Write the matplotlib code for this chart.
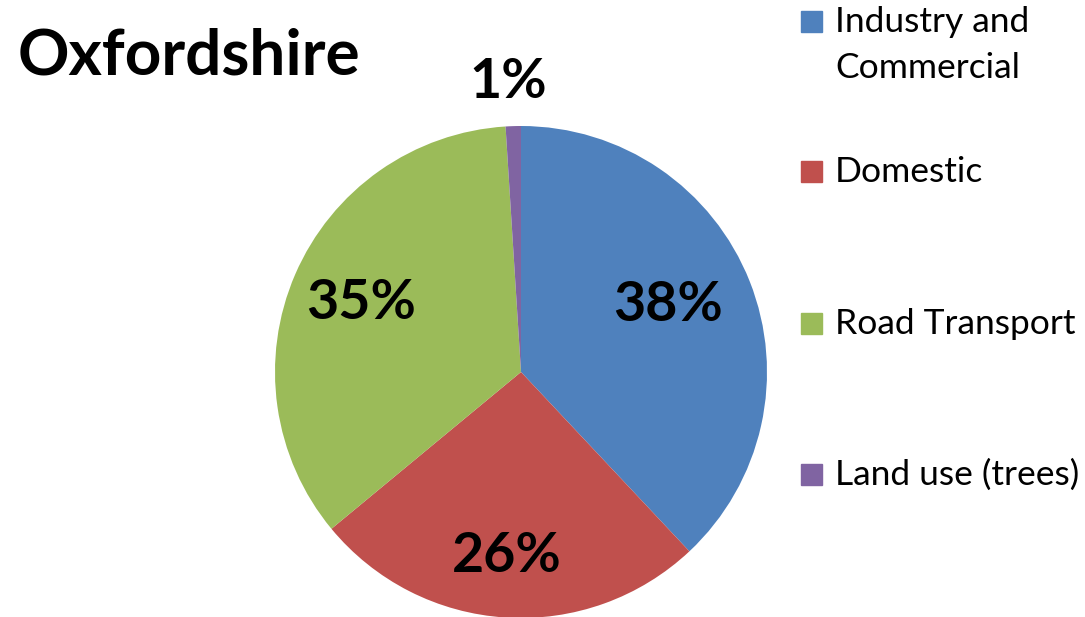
import numpy as np
import matplotlib
matplotlib.use("Agg")
import matplotlib.pyplot as plt
from matplotlib.patches import Rectangle

categories = ["Industry and\nCommercial", "Domestic", "Road Transport", "Land use (trees)"]
shares = [38, 26, 35, 1]
colors = ["#4F81BD", "#C0504D", "#9BBB59", "#8064A2"]

# label placement: radial distance and a small pixel nudge
label_dist = [0.65, 0.75, 0.71, 1.18]
label_nudge = [(-2, 8), (-3, 0), (0, 0), (-4, 0)]

W, H = 1085, 617
fig = plt.figure(figsize=(W / 100, H / 100), dpi=100)
plt.rcParams["font.family"] = ["Lato", "DejaVu Sans"]

# pie centre and radius in pixels
cx, cy, r = 521, 372, 246
ax = fig.add_axes([(cx - r) / W, (H - cy - r) / H, 2 * r / W, 2 * r / H])
wedges, _ = ax.pie(shares, colors=colors, startangle=90, counterclock=False,
                   radius=1, wedgeprops=dict(linewidth=0))
ax.set_xlim(-1, 1)
ax.set_ylim(-1, 1)
ax.set_axis_off()

for w, val, d, nudge in zip(wedges, shares, label_dist, label_nudge):
    ang = np.deg2rad((w.theta1 + w.theta2) / 2)
    ax.annotate("{0}%".format(val), (d * np.cos(ang), d * np.sin(ang)),
                xytext=(nudge[0] * 0.72, nudge[1] * 0.72), textcoords="offset points",
                ha="center", va="center", fontsize=40, fontweight="bold",
                color="#000000", annotation_clip=False)

fig.text(18 / W, 1 - 56 / H, "Oxfordshire", ha="left", va="center",
         fontsize=46, fontweight="bold")

# legend drawn by hand
legend_y = [22, 172, 324, 475]
for label, color, y in zip(categories, colors, legend_y):
    fig.patches.append(Rectangle((801 / W, 1 - (y + 10) / H), 21 / W, 21 / H,
                                 transform=fig.transFigure, color=color))
    for i, line in enumerate(label.split("\n")):
        fig.text(835 / W, 1 - (y + 46 * i) / H, line, ha="left", va="center",
                 fontsize=25.5)

fig.savefig("out.png", dpi=100)
